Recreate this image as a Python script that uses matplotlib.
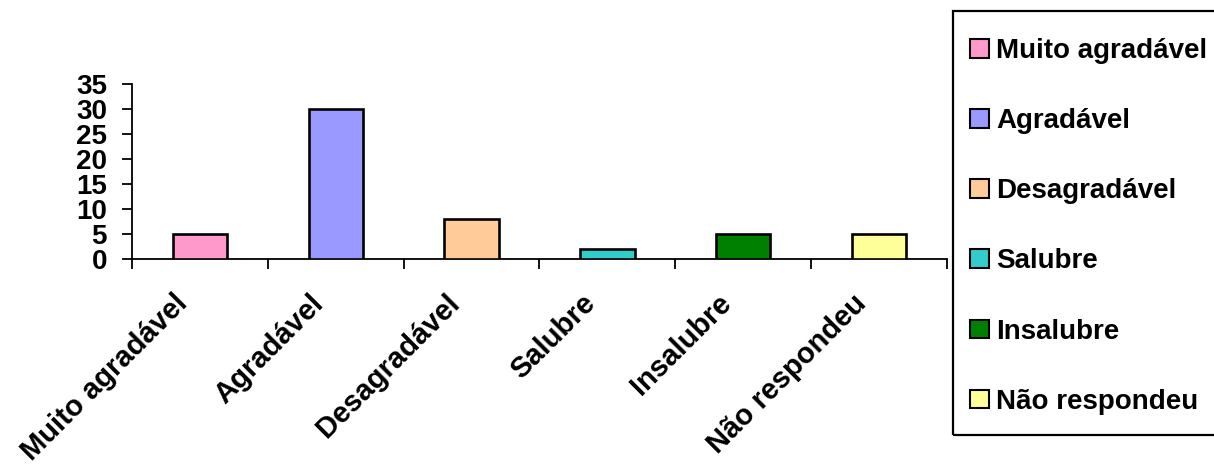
import numpy as np
import matplotlib.pyplot as plt
from matplotlib.patches import Patch, Rectangle
from matplotlib.transforms import ScaledTranslation

plt.rcParams['font.family'] = ['Liberation Sans', 'DejaVu Sans']
plt.rcParams['font.weight'] = 'bold'

# Data
categories = ['Muito agradável', 'Agradável', 'Desagradável', 'Salubre', 'Insalubre', 'Não respondeu']
values = [5, 30, 8, 2, 5, 5]
colors = ['#FF99CC', '#9999FF', '#FFCC99', '#33CCCC', '#008000', '#FFFF99']
y_ticks = [0, 5, 10, 15, 20, 25, 30, 35]

W, H = 1214, 465
fig = plt.figure(figsize=(W / 100, H / 100), dpi=100)
ax = fig.add_axes([132 / W, 1 - 259 / H, 815 / W, 175 / H])

x = np.arange(len(categories))
ax.bar(x, values, width=0.4, color=colors, edgecolor='black', linewidth=1.9, zorder=3)

ax.set_xlim(-0.5, len(categories) - 0.5)
ax.set_ylim(0, 35)
ax.set_yticks(y_ticks)
ax.set_yticklabels([str(v) for v in y_ticks], fontsize=20, fontweight='bold')

# labels at category centres, tick marks at category boundaries
ax.set_xticks(x)
ax.set_xticklabels(categories, rotation=45, ha='right', va='baseline',
                   rotation_mode='anchor', fontsize=21, fontweight='bold')
ax.set_xticks(np.arange(-0.5, len(categories)), minor=True)
ax.tick_params(axis='x', which='major', length=0, pad=33)
ax.tick_params(axis='x', which='minor', length=7, width=1.3, direction='out')
ax.tick_params(axis='y', length=7, width=1.3, direction='out', pad=11)
shift = ScaledTranslation(-11 / 100, 0, fig.dpi_scale_trans)
for lbl in ax.get_xticklabels():
    lbl.set_transform(lbl.get_transform() + shift)

for side in ['top', 'right']:
    ax.spines[side].set_visible(False)
for side in ['left', 'bottom']:
    ax.spines[side].set_linewidth(1.3)

# legend box runs off the right edge of the picture
fig.patches.append(Rectangle((953 / W, 1 - 435 / H), 300 / W, 424 / H,
                             transform=fig.transFigure, fill=False,
                             edgecolor='black', linewidth=1.6))
handles = [Patch(facecolor=c, edgecolor='black', linewidth=1.5) for c in colors]
leg = fig.legend(handles, categories, loc='upper left',
                 bbox_to_anchor=(945 / W, 1 - 13 / H),
                 prop={'size': 20, 'weight': 'bold'}, frameon=False,
                 handlelength=0.7, handleheight=0.65, handletextpad=0.25,
                 labelspacing=1.59, borderpad=0.9, borderaxespad=0)

fig.savefig('out.png', dpi=100)
